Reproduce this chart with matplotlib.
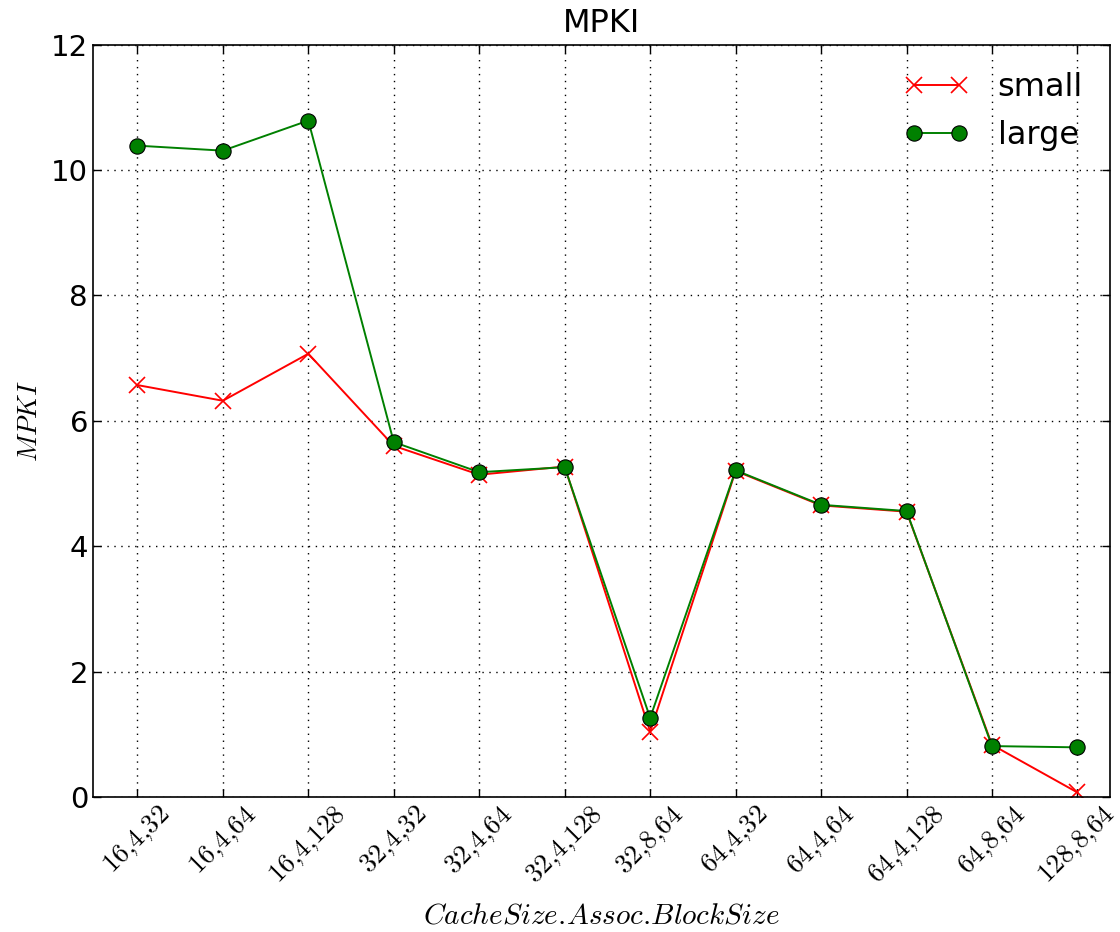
import matplotlib
matplotlib.use("Agg")
import matplotlib.pyplot as plt
import numpy as np

configs = ["16,4,32", "16,4,64", "16,4,128", "32,4,32", "32,4,64", "32,4,128",
           "32,8,64", "64,4,32", "64,4,64", "64,4,128", "64,8,64", "128,8,64"]
small = [6.57, 6.32, 7.07, 5.60, 5.14, 5.27, 1.04, 5.20, 4.65, 4.55, 0.83, 0.07]
large = [10.39, 10.31, 10.79, 5.66, 5.18, 5.26, 1.26, 5.21, 4.66, 4.56, 0.81, 0.79]

plt.rcParams['mathtext.fontset'] = 'cm'

x = np.arange(len(configs))

fig = plt.figure(figsize=(11.2, 9.32), dpi=100)
ax = fig.add_axes([0.083, 0.145, 0.908, 0.807])

ax.plot(x, small, color='red', marker='x', markersize=11, markeredgewidth=1.2,
        linewidth=1.4, label='small')
ax.plot(x, large, color='green', marker='o', markersize=11, markerfacecolor='green',
        markeredgecolor='black', markeredgewidth=0.8, linewidth=1.4, label='large')

ax.set_xlim(-0.52, 11.38)
ax.set_ylim(0, 12)
ax.set_xticks(x)
ax.set_xticklabels(["$" + c.replace(",", "{,}") + "$" for c in configs],
                   rotation=45, fontsize=19.5)
ax.set_yticks(range(0, 13, 2))
ax.tick_params(axis='y', labelsize=21)
ax.tick_params(direction='in', top=True, right=True, length=6, width=1)

ax.grid(True, color='black', linestyle=(0, (1, 4)), linewidth=1)
for s in ax.spines.values():
    s.set_linewidth(1.2)

ax.set_title("MPKI", fontsize=23, pad=9)
ax.set_xlabel(r"$CacheSize.\!Assoc.\!BlockSize$", fontsize=21, labelpad=9)
ax.set_ylabel("$MPKI$", fontsize=19.5, labelpad=6)

ax.legend(loc='upper right', frameon=False, numpoints=2, fontsize=23,
          handlelength=2.0, handletextpad=0.9, borderaxespad=0.45,
          labelspacing=0.55)

fig.savefig("out.png", dpi=100, facecolor='white')
